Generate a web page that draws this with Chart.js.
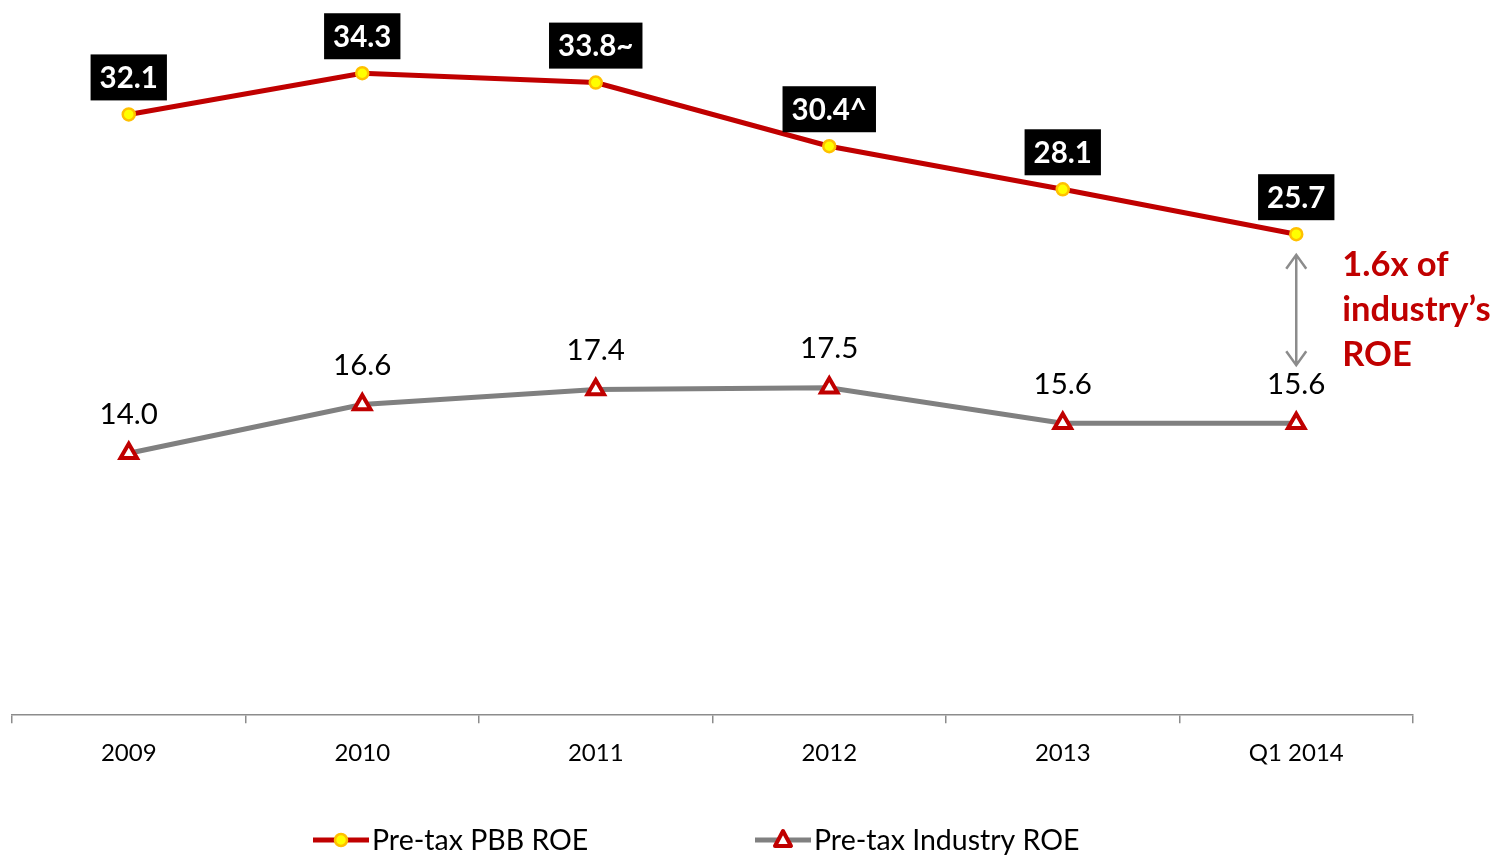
<!DOCTYPE html>
<html><head><meta charset="utf-8">
<script src="https://cdn.jsdelivr.net/npm/chart.js@4"></script>
<style>html,body{margin:0;padding:0;background:#fff;}#wrap{width:1496px;height:856px;}</style>
</head><body><div id="wrap"><canvas id="c" width="1496" height="856"></canvas></div>
<script>
const categories = ['2009','2010','2011','2012','2013','Q1 2014'];
const pbbROE = [32.1, 34.3, 33.8, 30.4, 28.1, 25.7];
const pbbLabels = ['32.1','34.3','33.8~','30.4^','28.1','25.7'];
const industryROE = [14.0, 16.6, 17.4, 17.5, 15.6, 15.6];
const industryLabels = ['14.0','16.6','17.4','17.5','15.6','15.6'];
const seriesNames = ['Pre-tax PBB ROE','Pre-tax Industry ROE'];
const annotationLines = ['1.6x of','industry\u2019s','ROE'];
const arrowRange = [24.6, 18.7];

const FONT = 'Lato, "Open Sans", sans-serif';
const RED = '#C00000', GRAY = '#808080';

const labelPlugin = {
  id: 'labels',
  afterDatasetsDraw(chart) {
    const ctx = chart.ctx;
    const m0 = chart.getDatasetMeta(0), m1 = chart.getDatasetMeta(1);
    ctx.save();
    ctx.textAlign = 'center'; ctx.textBaseline = 'middle';
    ctx.font = 'bold 29.5px ' + FONT;
    m0.data.forEach((p, i) => {
      const t = pbbLabels[i];
      const w = ctx.measureText(t).width + 18;
      const h = 46;
      const cy = p.y - 37;
      ctx.fillStyle = '#000';
      ctx.fillRect(p.x - w/2, cy - h/2, w, h);
      ctx.fillStyle = '#fff';
      ctx.fillText(t, p.x, cy + 1);
    });
    ctx.font = '29.5px ' + FONT;
    ctx.fillStyle = '#000';
    m1.data.forEach((p, i) => {
      ctx.fillText(industryLabels[i], p.x, p.y - 39);
    });
    const ys = chart.scales.y;
    const ax = m0.data[5].x;
    const y1 = ys.getPixelForValue(arrowRange[0]), y2 = ys.getPixelForValue(arrowRange[1]);
    ctx.strokeStyle = '#8c8c8c'; ctx.lineWidth = 2.5;
    ctx.beginPath();
    ctx.moveTo(ax, y1); ctx.lineTo(ax, y2);
    ctx.moveTo(ax - 10, y1 + 14); ctx.lineTo(ax, y1); ctx.lineTo(ax + 10, y1 + 14);
    ctx.moveTo(ax - 10, y2 - 14); ctx.lineTo(ax, y2); ctx.lineTo(ax + 10, y2 - 14);
    ctx.stroke();
    ctx.fillStyle = RED; ctx.textAlign = 'left';
    ctx.font = 'bold 34.5px ' + FONT;
    annotationLines.forEach((t, i) => ctx.fillText(t, ax + 46, y1 + 10 + i * 45));
    const ly = 840;
    const items = [{x: 313, c: RED, tri: false}, {x: 755, c: GRAY, tri: true}];
    items.forEach((it, i) => {
      ctx.strokeStyle = it.c; ctx.lineWidth = 5;
      ctx.beginPath(); ctx.moveTo(it.x, ly); ctx.lineTo(it.x + 56, ly); ctx.stroke();
      const mx = it.x + 28;
      if (!it.tri) {
        ctx.beginPath(); ctx.arc(mx, ly, 6, 0, Math.PI*2);
        ctx.fillStyle = '#FFFF00'; ctx.fill();
        ctx.strokeStyle = '#FFC000'; ctx.lineWidth = 2.5; ctx.stroke();
      } else {
        ctx.beginPath(); ctx.moveTo(mx, ly - 9); ctx.lineTo(mx + 8, ly + 6); ctx.lineTo(mx - 8, ly + 6); ctx.closePath();
        ctx.fillStyle = '#fff'; ctx.fill();
        ctx.strokeStyle = RED; ctx.lineWidth = 4; ctx.lineJoin = 'round'; ctx.stroke();
      }
      ctx.fillStyle = '#000'; ctx.font = '28.5px ' + FONT; ctx.textAlign = 'left';
      ctx.fillText(seriesNames[i], it.x + 59, ly + 1);
    });
    ctx.restore();
  }
};

new Chart(document.getElementById('c'), {
  type: 'line',
  data: {
    labels: categories,
    datasets: [
      { label: seriesNames[0], data: pbbROE, borderColor: RED, borderWidth: 5,
        pointBackgroundColor: '#FFFF00', pointBorderColor: '#FFC000', pointBorderWidth: 2.5,
        pointRadius: 6, pointStyle: 'circle', tension: 0 },
      { label: seriesNames[1], data: industryROE, borderColor: GRAY, borderWidth: 5,
        pointBackgroundColor: '#fff', pointBorderColor: RED, pointBorderWidth: 4,
        pointRadius: 9.5, pointStyle: 'triangle', tension: 0 }
    ]
  },
  options: {
    responsive: false, animation: false, devicePixelRatio: 1,
    layout: { autoPadding: false, padding: { left: 12, right: 83, top: 4, bottom: 72 } },
    plugins: { legend: { display: false }, tooltip: { enabled: false } },
    scales: {
      x: { offset: true,
        grid: { drawOnChartArea: false, drawTicks: true, tickLength: 8, color: '#8c8c8c', lineWidth: 1.5, offset: true },
        border: { color: '#8c8c8c', width: 1.5 },
        ticks: { color: '#000', font: { family: FONT, size: 24 }, padding: 16, maxRotation: 0 } },
      y: { display: false, min: 0, max: 38 }
    }
  },
  plugins: [labelPlugin]
});
</script></body></html>
